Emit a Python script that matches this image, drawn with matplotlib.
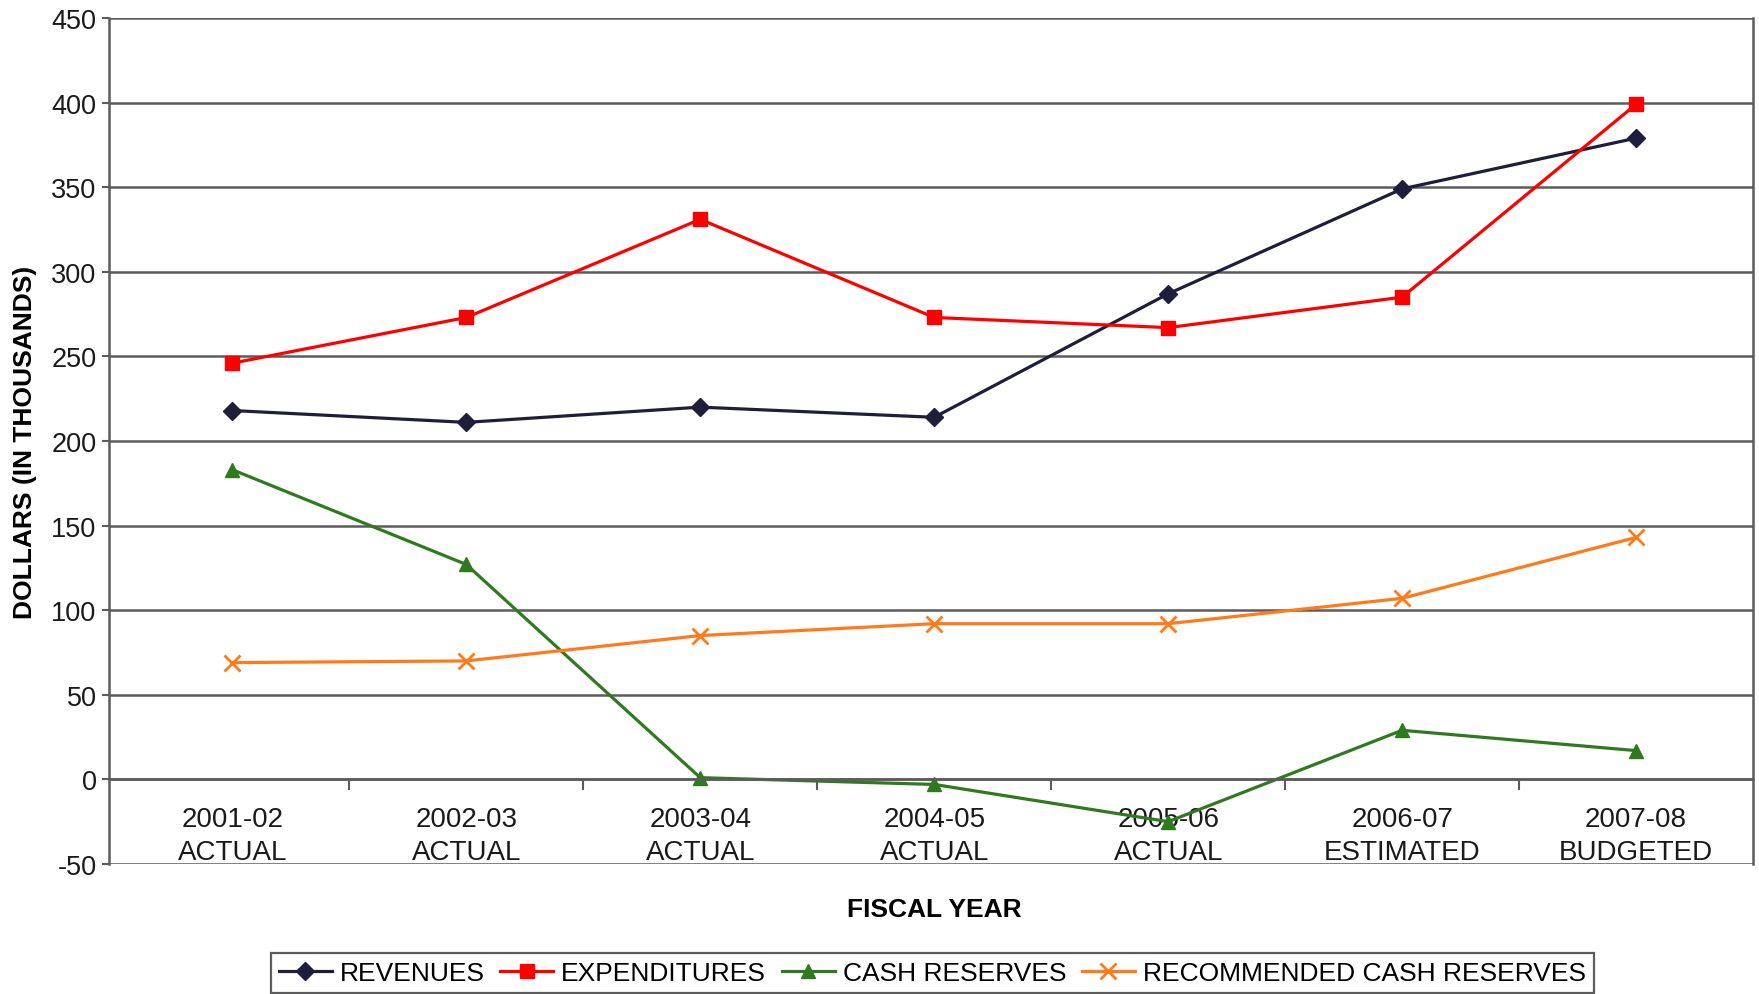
import matplotlib
matplotlib.use('Agg')
import matplotlib.pyplot as plt
import numpy as np

plt.rcParams['font.family'] = ['Liberation Sans', 'DejaVu Sans']
plt.rcParams['axes.unicode_minus'] = False

# fiscal years and their status
years = ['2001-02', '2002-03', '2003-04', '2004-05', '2005-06', '2006-07', '2007-08']
status = ['ACTUAL', 'ACTUAL', 'ACTUAL', 'ACTUAL', 'ACTUAL', 'ESTIMATED', 'BUDGETED']

# dollars, in thousands
revenues = [218, 211, 220, 214, 287, 349, 379]
expenditures = [246, 273, 331, 273, 267, 285, 399]
cash_reserves = [183, 127, 1, -3, -25, 29, 17]
recommended = [69, 70, 85, 92, 92, 107, 143]

GRID = '#5c5c5c'

fig = plt.figure(figsize=(17.59, 9.95), dpi=100)
ax = fig.add_axes([0.062, 0.1307, 0.9346, 0.8502])
x = np.arange(len(years))

ax.plot(x, revenues, '-D', color='#1e1e3c', lw=2.3, ms=9, label='REVENUES')
ax.plot(x, expenditures, '-s', color='#ff0000', lw=2.3, ms=10, label='EXPENDITURES')
ax.plot(x, cash_reserves, '-^', color='#2f7a1f', lw=2.3, ms=10, label='CASH RESERVES')
ax.plot(x, recommended, '-x', color='#ff7a1a', lw=2.3, ms=11, mew=2,
        label='RECOMMENDED CASH RESERVES')

ax.set_xlim(-0.527, 6.5)
ax.set_ylim(-50, 450)
ax.set_yticks(range(-50, 451, 50))
ax.grid(axis='y', color=GRID, lw=1.8)
ax.set_axisbelow(True)

# category axis sits on the zero line, Excel style
ax.spines['bottom'].set_position(('data', 0))
ax.spines['top'].set_visible(False)
for s in ['bottom', 'left', 'right']:
    ax.spines[s].set_color(GRID)
    ax.spines[s].set_linewidth(1.8)

ax.set_xticks(x)
ax.set_xticklabels([f'{y}\n{s}' for y, s in zip(years, status)], linespacing=1.38)
ax.set_xticks(np.arange(0.5, 6, 1), minor=True)
ax.tick_params(axis='x', which='major', length=0, pad=19, labelsize=20, colors='#1a1a1a')
ax.tick_params(axis='x', which='minor', length=8, width=1.5, direction='out', color=GRID)
ax.tick_params(axis='y', length=5, width=1.5, color=GRID, labelsize=19.5,
               labelcolor='#1a1a1a', pad=4)

ax.set_ylabel('DOLLARS (IN THOUSANDS)', fontsize=19, fontweight='bold', labelpad=10)
fig.text(0.531, 0.085, 'FISCAL YEAR', ha='center', va='center', fontsize=19, fontweight='bold')

leg = fig.legend(loc='upper center', bbox_to_anchor=(0.53, 0.041), ncol=4, fontsize=19,
                 frameon=True, fancybox=False, edgecolor='#333333', handlelength=2.0,
                 handletextpad=0.3, columnspacing=0.6, borderpad=0.3, borderaxespad=0)
leg.get_frame().set_linewidth(1.6)

fig.savefig('out.png', dpi=100)
